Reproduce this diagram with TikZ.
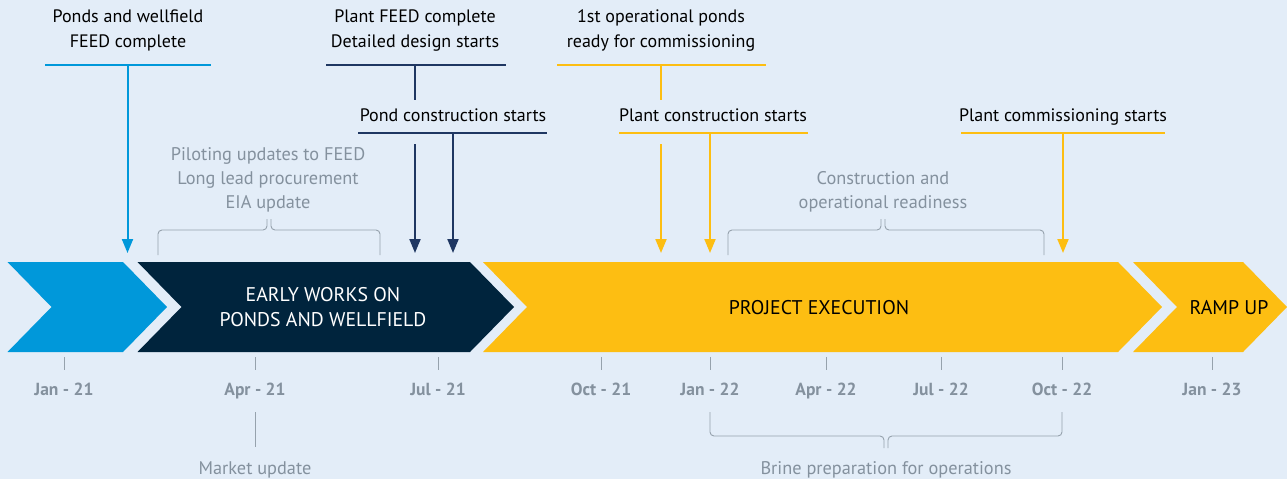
\documentclass[tikz,border=0pt]{standalone}
\usepackage{fontspec}
\setmainfont{PT Sans}
\usetikzlibrary{arrows.meta}
\definecolor{bgblue}{HTML}{E3EDF8}
\definecolor{skyblue}{HTML}{0098DA}
\definecolor{navy}{HTML}{00243D}
\definecolor{navyline}{HTML}{1F3762}
\definecolor{amber}{HTML}{FDBE12}
\definecolor{slate}{HTML}{84919E}
\tikzset{
  ms_lbl/.style = {align=center, inner sep=0pt, text=black,
    font=\fontsize{18}{25}\selectfont},
  ms_bar/.style = {line width=2.5pt},
  ms_arr/.style = {line width=2pt, -{Triangle[width=11pt,length=14pt]}},
  note_lbl/.style = {align=center, inner sep=0pt, text=slate,
    font=\fontsize{18.3}{24}\selectfont},
  brace_ln/.style = {draw=slate!85, line width=0.9pt, rounded corners=4pt},
  month_lbl/.style = {inner sep=0pt, text=slate,
    font=\bfseries\fontsize{17.5}{18}\selectfont},
  phase_lbl/.style = {align=center, inner sep=0pt,
    font=\fontsize{19.8}{25}\selectfont},
}
\newcommand{\chevron}[3]{%
  \fill[#3] (#1,262) -- (#2,262) -- (#2+44,307) -- (#2,352) -- (#1,352)
    -- (#1+44,307) -- cycle;}

\begin{document}
\begin{tikzpicture}[x=1pt,y=-1pt]
  \fill[bgblue] (0,0) rectangle (1287,479);
  \useasboundingbox (0,0) rectangle (1287,479);

  \chevron{7.5}{123}{skyblue}
  \chevron{137.5}{470}{navy}
  \chevron{483}{1118}{amber}
  \chevron{1133}{1243}{amber}
  \node[phase_lbl, text=white] (early) at (323,307.5) {EARLY WORKS ON\\PONDS AND WELLFIELD};
  \node[phase_lbl] (exec) at (819,307.5) {PROJECT EXECUTION};
  \node[phase_lbl] (ramp) at (1229,307.5) {RAMP UP};

  \node[ms_lbl] (pw_feed) at (128,30.5) {Ponds and wellfield\\FEED complete};
  \coordinate (pw_l) at (45,65); \coordinate (pw_r) at (211,65);
  \coordinate (pw_top) at (127.5,65); \coordinate (pw_end) at (127.5,253);
  \draw[ms_bar, skyblue] (pw_l) -- (pw_r);
  \draw[ms_arr, skyblue] (pw_top) -- (pw_end);

  \node[ms_lbl] (pl_feed) at (415,30.5) {Plant FEED complete\\Detailed design starts};
  \coordinate (pf_l) at (326,65); \coordinate (pf_r) at (506,65);
  \coordinate (pf_top) at (415,65); \coordinate (pf_gap) at (415,100);
  \coordinate (pf_low) at (415,144); \coordinate (pf_end) at (415,253);
  \draw[ms_bar, navyline] (pf_l) -- (pf_r);
  \draw[line width=2pt, navyline] (pf_top) -- (pf_gap);
  \draw[ms_arr, navyline] (pf_low) -- (pf_end);

  \node[ms_lbl, anchor=base] (pond_con) at (453,121) {Pond construction starts};
  \coordinate (pc_l) at (358,133); \coordinate (pc_r) at (547,133);
  \coordinate (pc_top) at (453,133); \coordinate (pc_end) at (453,253);
  \draw[ms_bar, navyline] (pc_l) -- (pc_r);
  \draw[ms_arr, navyline] (pc_top) -- (pc_end);

  \node[ms_lbl] (op_ponds) at (661,30.5) {1st operational ponds\\ready for commissioning};
  \coordinate (op_l) at (557,65); \coordinate (op_r) at (766,65);
  \coordinate (op_top) at (661,65); \coordinate (op_gap) at (661,100);
  \coordinate (op_low) at (661,144); \coordinate (op_end) at (661,253);
  \draw[ms_bar, amber] (op_l) -- (op_r);
  \draw[line width=2pt, amber] (op_top) -- (op_gap);
  \draw[ms_arr, amber] (op_low) -- (op_end);

  \node[ms_lbl, anchor=base] (plant_con) at (713,121) {Plant construction starts};
  \coordinate (plc_l) at (619,133); \coordinate (plc_r) at (808,133);
  \coordinate (plc_top) at (710,133); \coordinate (plc_end) at (710,253);
  \draw[ms_bar, amber] (plc_l) -- (plc_r);
  \draw[ms_arr, amber] (plc_top) -- (plc_end);

  \node[ms_lbl, anchor=base] (plant_comm) at (1063,121) {Plant commissioning starts};
  \coordinate (pcm_l) at (961,133); \coordinate (pcm_r) at (1165,133);
  \coordinate (pcm_top) at (1063,133); \coordinate (pcm_end) at (1063,253);
  \draw[ms_bar, amber] (pcm_l) -- (pcm_r);
  \draw[ms_arr, amber] (pcm_top) -- (pcm_end);

  \node[note_lbl] (piloting) at (268,180) {Piloting updates to FEED\\Long lead procurement\\EIA update};
  \draw[brace_ln] (158,255) -- (158,230) -- (267,230) -- (267,219);
  \draw[brace_ln] (271,219) -- (271,230) -- (380,230) -- (380,255);

  \node[note_lbl] (readiness) at (883,192) {Construction and\\operational readiness};
  \draw[brace_ln] (728,255) -- (728,230) -- (881,230) -- (881,219);
  \draw[brace_ln] (885,219) -- (885,230) -- (1044,230) -- (1044,255);

  \foreach \x/\m [count=\i] in {64/Jan - 21, 255/Apr - 21, 438/Jul - 21,
      601/Oct - 21, 710/Jan - 22, 826/Apr - 22, 941/Jul - 22,
      1062/Oct - 22, 1212/Jan - 23}{
    \draw[draw=slate!85, line width=0.9pt] (\x,357) -- (\x,370);
    \node[month_lbl, anchor=base] (m\i) at (\x,395) {\m};
  }

  \node[note_lbl, anchor=base] (market) at (255,474) {Market update};
  \draw[draw=slate!85, line width=0.9pt] (255,412) -- (255,447);

  \node[note_lbl, anchor=base] (brine) at (886,474) {Brine preparation for operations};
  \draw[brace_ln] (710,412) -- (710,436) -- (884,436) -- (884,448);
  \draw[brace_ln] (888,448) -- (888,436) -- (1062,436) -- (1062,412);
\end{tikzpicture}
\end{document}
